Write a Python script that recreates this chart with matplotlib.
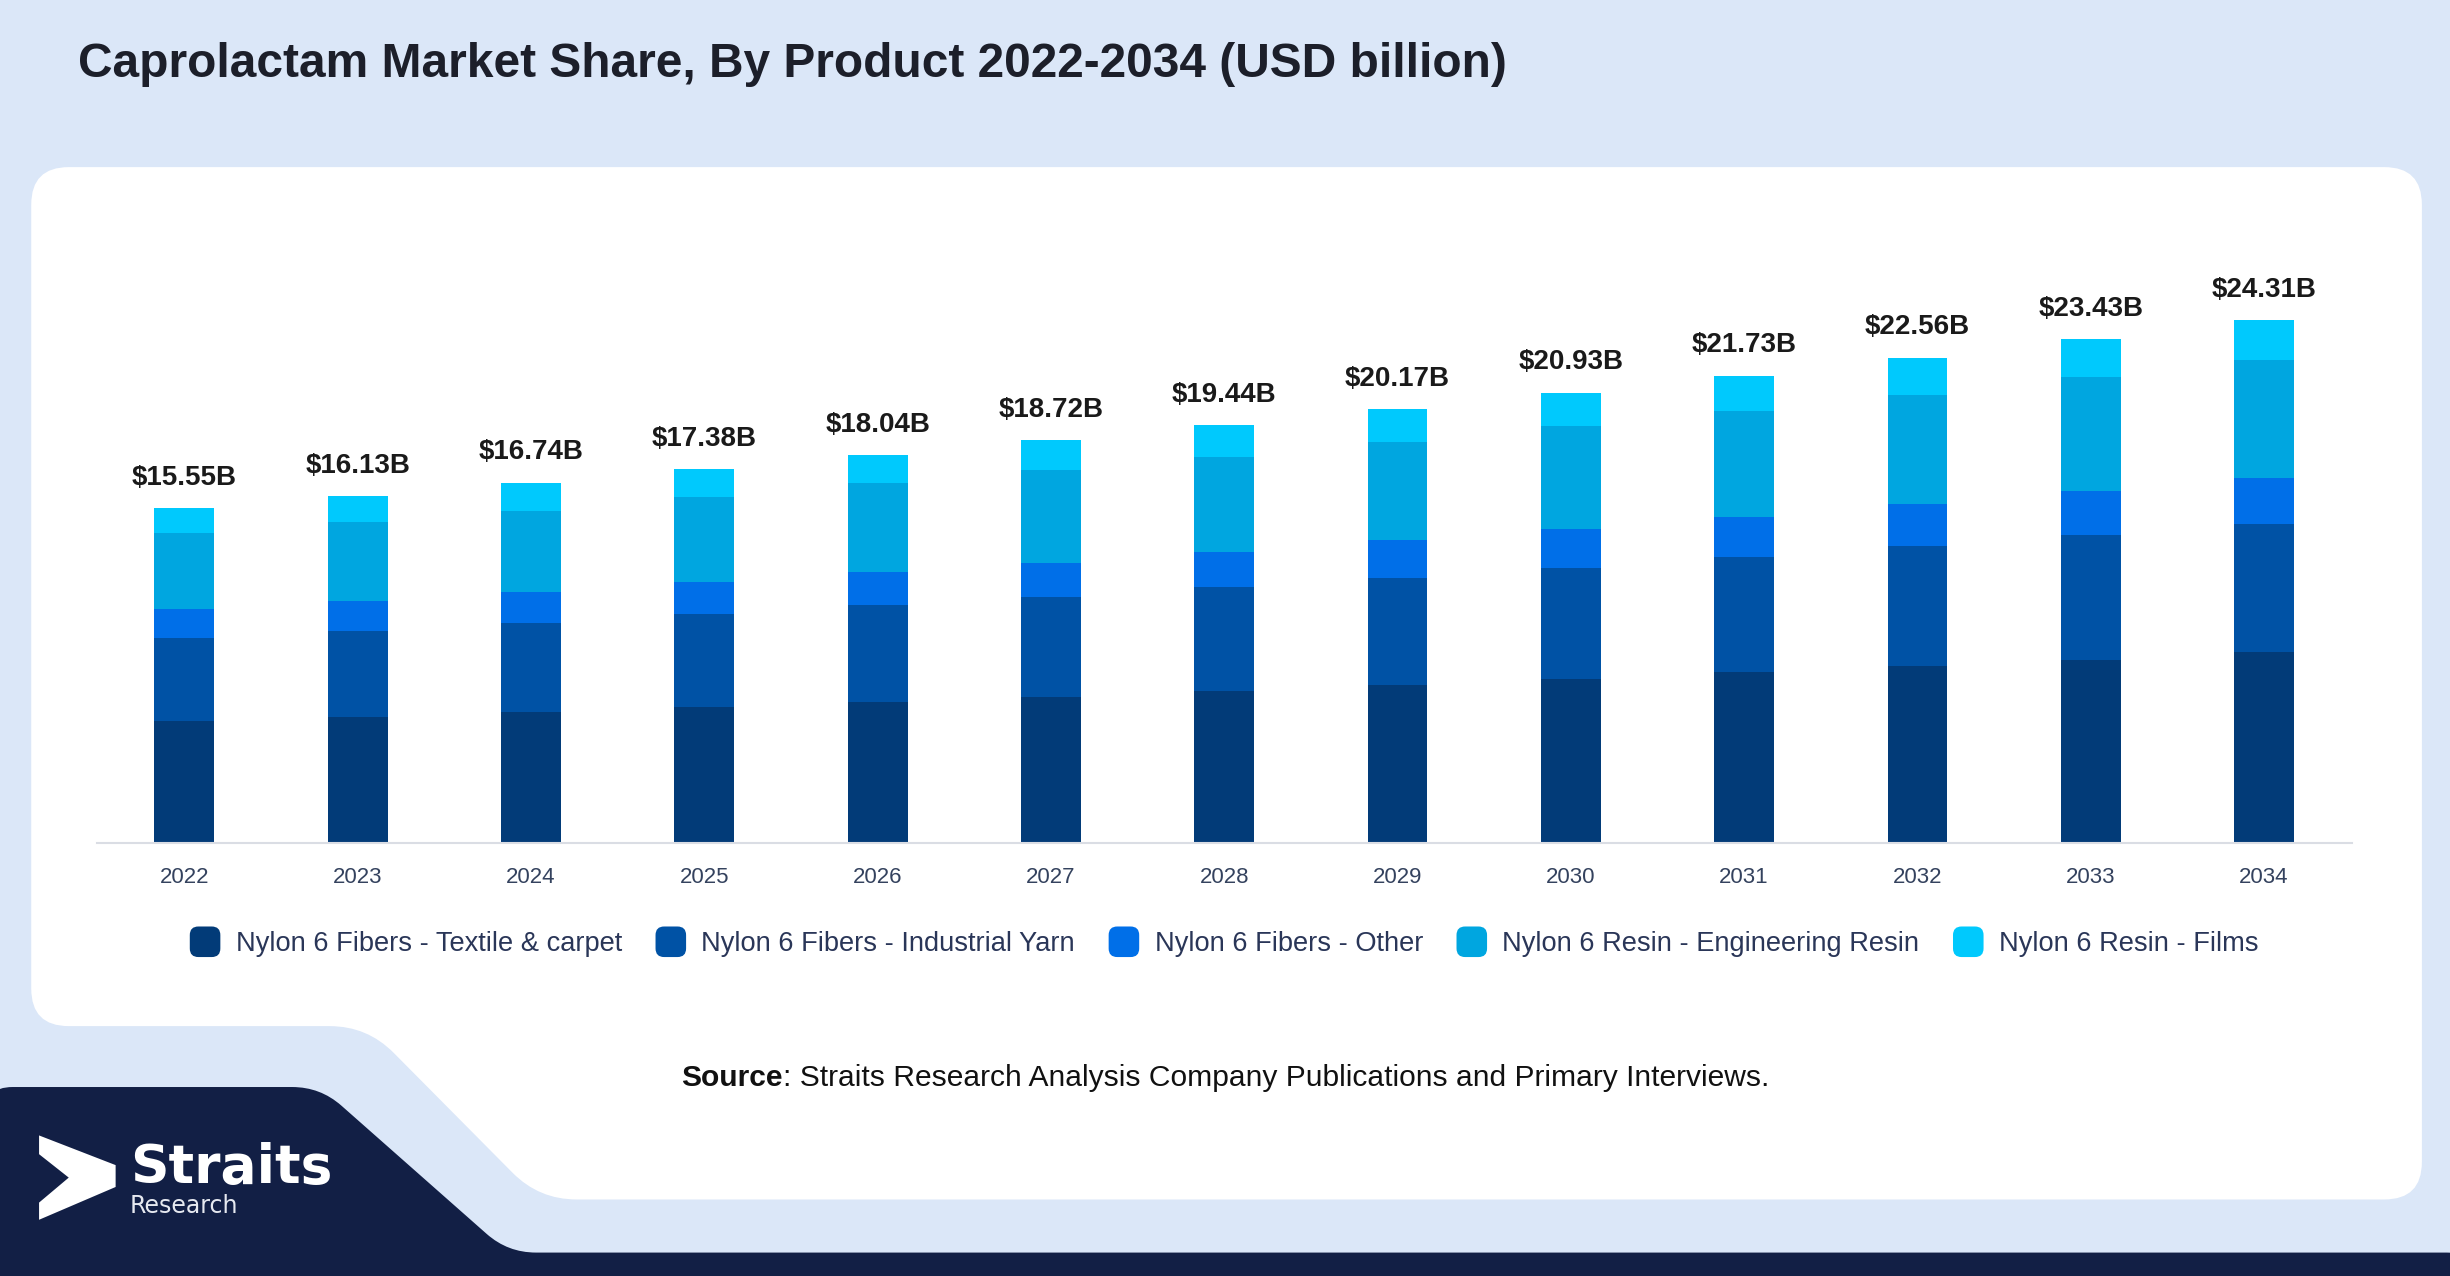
import numpy as np
import matplotlib
matplotlib.use("Agg")
import matplotlib.pyplot as plt
from matplotlib.path import Path
from matplotlib.patches import PathPatch, FancyBboxPatch, Polygon, Patch
from matplotlib.legend_handler import HandlerPatch

plt.rcParams['font.family'] = ['Liberation Sans', 'DejaVu Sans']

years = ['2022', '2023', '2024', '2025', '2026', '2027', '2028',
         '2029', '2030', '2031', '2032', '2033', '2034']
totals = [15.55, 16.13, 16.74, 17.38, 18.04, 18.72, 19.44,
          20.17, 20.93, 21.73, 22.56, 23.43, 24.31]

# values (USD billion)
textile = [5.67, 5.89, 6.10, 6.35, 6.58, 6.82, 7.09, 7.36, 7.65, 7.94, 8.25, 8.54, 8.90]
industrial = [3.85, 3.97, 4.15, 4.29, 4.49, 4.63, 4.80, 4.98, 5.16, 5.35, 5.59, 5.81, 5.96]
other = [1.35, 1.41, 1.44, 1.50, 1.54, 1.60, 1.66, 1.74, 1.81, 1.87, 1.93, 2.01, 2.11]
eng_resin = [3.54, 3.66, 3.76, 3.94, 4.13, 4.28, 4.41, 4.57, 4.78, 4.95, 5.07, 5.33, 5.47]
films = [1.15, 1.20, 1.30, 1.30, 1.30, 1.39, 1.47, 1.52, 1.53, 1.62, 1.72, 1.74, 1.86]

series_names = ['Nylon 6 Fibers - Textile & carpet', 'Nylon 6 Fibers - Industrial Yarn',
                'Nylon 6 Fibers - Other', 'Nylon 6 Resin - Engineering Resin',
                'Nylon 6 Resin - Films']
series = [textile, industrial, other, eng_resin, films]
colors = ['#023b78', '#0052a5', '#006fe8', '#00a6e0', '#00c9fd']

BG = '#dbe7f8'
NAVY = '#121f45'

fig = plt.figure(figsize=(24.5, 12.76), dpi=100)
fig.patch.set_facecolor(BG)

# background decoration, drawn in reference pixel units
bg = fig.add_axes([0, 0, 1, 1], zorder=-1)
bg.set_xlim(0, 1568)
bg.set_ylim(817, 0)
bg.axis('off')


def rounded_poly(pts, r):
    verts, codes = [], []
    n = len(pts)
    for i in range(n):
        p0 = np.array(pts[i - 1], float)
        p1 = np.array(pts[i], float)
        p2 = np.array(pts[(i + 1) % n], float)
        d1 = p0 - p1
        d2 = p2 - p1
        rr = min(r, np.linalg.norm(d1) / 2, np.linalg.norm(d2) / 2)
        a = p1 + d1 / np.linalg.norm(d1) * rr
        b = p1 + d2 / np.linalg.norm(d2) * rr
        verts.append(a)
        codes.append(Path.MOVETO if i == 0 else Path.LINETO)
        verts += [p1, b]
        codes += [Path.CURVE3, Path.CURVE3]
    verts.append(verts[0])
    codes.append(Path.CLOSEPOLY)
    return Path(verts, codes)


card = [(20, 107), (1550, 107), (1550, 768), (345, 768), (235, 657), (20, 657)]
bg.add_patch(PathPatch(rounded_poly(card, 24), fc='white', ec='none'))
navy = [(-10, 696), (205, 696), (325, 802), (1580, 802), (1580, 830), (-10, 830)]
bg.add_patch(PathPatch(rounded_poly(navy, 18), fc=NAVY, ec='none'))

# logo
bg.add_patch(Polygon([(25, 727), (74, 746), (74, 760), (25, 781), (25, 770),
                      (44, 754), (25, 739)], closed=True, fc='white', ec='none'))
bg.text(83, 748, 'Straits', color='white', fontsize=38.5, fontweight='bold',
        family='DejaVu Sans', va='center', ha='left')
bg.text(83, 772, 'Research', color='#e6e9f0', fontsize=17,
        family='DejaVu Sans', va='center', ha='left')

bg.text(50, 41, 'Caprolactam Market Share, By Product 2022-2034 (USD billion)',
        fontsize=34.5, fontweight='bold', color='#1c1f2a', va='center', ha='left')

# source line
src = bg.text(436, 690, 'Source', fontsize=21.6, fontweight='bold', color='#111111',
              va='center', ha='left')
bg.annotate(': Straits Research Analysis Company Publications and Primary Interviews.',
            xy=(1, 0.5), xycoords=src, va='center', ha='left', fontsize=21.6, color='#111111')

# main chart
ax = fig.add_axes([62 / 1568, 1 - 540 / 817, (1505 - 62) / 1568, (540 - 150) / 817])
ax.patch.set_alpha(0)
x = np.arange(len(years))
bottom = np.zeros(len(years))
for name, vals, c in zip(series_names, series, colors):
    ax.bar(x, vals, width=0.345, bottom=bottom, color=c, label=name, zorder=2)
    bottom += np.array(vals)

for xi, t, top in zip(x, totals, bottom):
    ax.annotate(f'${t:.2f}B', (xi, top), xytext=(0, 22), textcoords='offset points',
                ha='center', va='center', fontsize=20, fontweight='bold', color='#1a1a1a')

ax.set_xlim(-0.505, len(years) - 0.495)
ax.set_ylim(0, (540 - 150) / 13.78)
ax.set_xticks(x)
ax.set_xticklabels(years, fontsize=16, color='#34425e')
ax.tick_params(axis='x', length=0, pad=17)
ax.set_yticks([])
for s in ['top', 'right', 'left']:
    ax.spines[s].set_visible(False)
ax.spines['bottom'].set_color('#dadde4')
ax.spines['bottom'].set_linewidth(1.5)


class RoundHandler(HandlerPatch):
    def create_artists(self, legend, orig_handle, xdescent, ydescent, width, height,
                       fontsize, trans):
        s = min(width, height)
        p = FancyBboxPatch((-xdescent + (width - s) / 2, -ydescent + (height - s) / 2), s, s,
                           boxstyle=f'round,pad=0,rounding_size={s * 0.28}',
                           fc=orig_handle.get_facecolor(), ec='none', transform=trans)
        return [p]


handles = [Patch(fc=c) for c in colors]
fig.legend(handles, series_names, loc='center', bbox_to_anchor=(0.499, 1 - 603 / 817),
           ncol=5, frameon=False, fontsize=19.6, labelcolor='#2a3658',
           handlelength=1.35, handleheight=1.35, handletextpad=0.45, columnspacing=1.12,
           handler_map={Patch: RoundHandler()})

fig.savefig('out.png', dpi=100, facecolor=fig.get_facecolor())
